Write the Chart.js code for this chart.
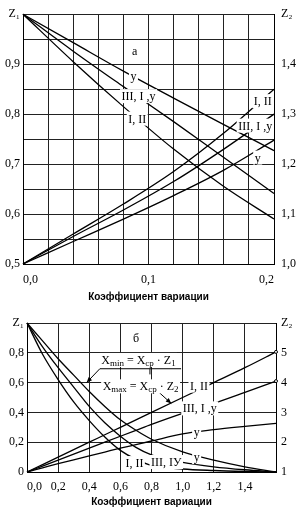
<!DOCTYPE html>
<html><head><meta charset="utf-8">
<script src="https://cdn.jsdelivr.net/npm/chart.js@4"></script>
<style>
html,body{margin:0;padding:0;background:#fff;overflow:hidden;}
canvas{display:block;}
</style></head><body>
<canvas id="c1" width="302" height="308" style="width:302px;height:308px"></canvas>
<canvas id="c2" width="302" height="200" style="width:302px;height:200px"></canvas>
<script>
// ---------- data: top chart (а) ----------
const topX      = [0, 0.04, 0.08, 0.12, 0.16, 0.2];
const topZ1_u   = [1.0, 0.943, 0.886, 0.832, 0.779, 0.727];
const topZ1_III = [1.0, 0.926, 0.855, 0.785, 0.713, 0.641];
const topZ1_I   = [1.0, 0.905, 0.815, 0.730, 0.655, 0.590];
const topZ2_I   = [1.0, 1.060, 1.120, 1.185, 1.262, 1.350];
const topZ2_III = [1.0, 1.055, 1.108, 1.165, 1.230, 1.300];
const topZ2_u   = [1.0, 1.045, 1.090, 1.137, 1.188, 1.248];

// ---------- data: bottom chart (б) ----------
const botX      = [0, 0.1, 0.2, 0.3, 0.4, 0.5, 0.6, 0.7, 0.8, 1.0, 1.2, 1.4, 1.6];
const botZ1_I   = [1, 0.79, 0.62, 0.47, 0.345, 0.235, 0.145, 0.085, 0.045, 0.02, 0.01, 0.004, 0];
const botZ1_III = [1, 0.84, 0.70, 0.57, 0.44, 0.33, 0.24, 0.165, 0.115, 0.065, 0.035, 0.015, 0];
const botZ1_u   = [1, 0.88, 0.76, 0.65, 0.54, 0.44, 0.35, 0.28, 0.22, 0.135, 0.08, 0.035, 0];
const botZ2_I   = [1, 1.25, 1.5, 1.75, 2.0, 2.25, 2.5, 2.75, 3.0, 3.5, 4.0, 4.5, 5.03];
const botZ2_III = [1, 1.2, 1.4, 1.6, 1.8, 2.0, 2.2, 2.4, 2.6, 2.97, 3.3, 3.67, 4.05];
const botZ2_u   = [1, 1.14, 1.28, 1.41, 1.54, 1.67, 1.8, 1.92, 2.04, 2.28, 2.42, 2.53, 2.63];

const axisTitle = 'Коэффициент вариации';

// labels in data coordinates (x, Z1)
const topLabels = [
  {p: [['а', 0]], x: 0.089, y: 0.926},
  {p: [['у', 0]], x: 0.088, y: 0.877},
  {p: [['III, I ,у', 0]], x: 0.092, y: 0.836},
  {p: [['I, II', 0]], x: 0.091, y: 0.791},
  {p: [['I, II', 0]], x: 0.191, y: 0.826},
  {p: [['III, I ,у', 0]], x: 0.185, y: 0.777},
  {p: [['у', 0]], x: 0.187, y: 0.713}
];
const botLabels = [
  {p: [['б', 0]], x: 0.70, y: 0.90},
  {p: [['X', 0], ['min', 1], [' = X', 0], ['cp', 1], [' · Z', 0], ['1', 1]], x: 0.716, y: 0.752},
  {p: [['X', 0], ['max', 1], [' = X', 0], ['cp', 1], [' · Z', 0], ['2', 1]], x: 0.73, y: 0.575},
  {p: [['I, II', 0]], x: 1.105, y: 0.58},
  {p: [['III, I ,у', 0]], x: 1.11, y: 0.427},
  {p: [['у', 0]], x: 1.09, y: 0.267},
  {p: [['I, II', 0]], x: 0.69, y: 0.06},
  {p: [['III, IУ', 0]], x: 0.895, y: 0.067},
  {p: [['у', 0]], x: 1.09, y: 0.10}
];
// leader lines (x, Z1) pairs; arrow flag draws a head at the end
const botLeaders = [
  {pts: [[0.99, 0.693], [0.468, 0.693], [0.383, 0.60]], arrow: true},
  {pts: [[0.79, 0.693], [0.79, 0.655]], arrow: false},
  {pts: [[0.85, 0.533], [0.927, 0.46]], arrow: true}
];

const SERIF = "'Liberation Serif', 'DejaVu Serif', serif";
const SANS = "'Liberation Sans', Arial, sans-serif";

function comma(v, d) { return v.toFixed(d).replace('.', ','); }

function mk(xs, ys, axis, endDot) {
  return {
    data: xs.map((x, i) => ({x: x, y: ys[i]})),
    yAxisID: axis,
    borderColor: '#000', borderWidth: 1.3,
    pointRadius: xs.map((x, i) => (endDot && i === xs.length - 1) ? 1.5 : 0),
    pointBackgroundColor: '#fff', pointBorderColor: '#000', pointBorderWidth: 1,
    fill: false, cubicInterpolationMode: 'monotone', clip: 4
  };
}

function richWidth(ctx, parts) {
  let w = 0;
  for (const [t, s] of parts) {
    ctx.font = (s ? '9px ' : '12px ') + SERIF;
    w += ctx.measureText(t).width;
  }
  return w;
}

const labelPlugin = {
  id: 'labels',
  afterDatasetsDraw(chart, args, opts) {
    const ctx = chart.ctx, xs = chart.scales.x, ys = chart.scales.y;
    ctx.save();
    ctx.strokeStyle = '#000'; ctx.fillStyle = '#000'; ctx.lineWidth = 1;
    for (const L of (opts.leaders || [])) {
      const pts = L.pts.map(p => [xs.getPixelForValue(p[0]), ys.getPixelForValue(p[1])]);
      ctx.beginPath();
      pts.forEach((p, i) => i ? ctx.lineTo(p[0], p[1]) : ctx.moveTo(p[0], p[1]));
      ctx.stroke();
      if (L.arrow) {
        const a = pts[pts.length - 2], b = pts[pts.length - 1];
        const ang = Math.atan2(b[1] - a[1], b[0] - a[0]);
        ctx.beginPath();
        ctx.moveTo(b[0], b[1]);
        ctx.lineTo(b[0] - 6 * Math.cos(ang - 0.4), b[1] - 6 * Math.sin(ang - 0.4));
        ctx.lineTo(b[0] - 6 * Math.cos(ang + 0.4), b[1] - 6 * Math.sin(ang + 0.4));
        ctx.closePath(); ctx.fill();
      }
    }
    ctx.textBaseline = 'alphabetic';
    for (const L of (opts.labels || [])) {
      const cx = xs.getPixelForValue(L.x), cy = ys.getPixelForValue(L.y);
      const w = richWidth(ctx, L.p);
      ctx.fillStyle = '#fff';
      ctx.fillRect(cx - w / 2 - 1.5, cy - 7, w + 3, 14);
      ctx.fillStyle = '#000';
      let x = cx - w / 2;
      for (const [t, s] of L.p) {
        ctx.font = (s ? '9px ' : '12px ') + SERIF;
        ctx.fillText(t, x, cy + (s ? 6 : 4));
        x += ctx.measureText(t).width;
      }
    }
    ctx.restore();
  }
};

function buildChart(id, cfg) {
  const tickFont = {family: SERIF, size: 12};
  return new Chart(document.getElementById(id), {
    type: 'line',
    data: {datasets: cfg.datasets},
    options: {
      responsive: false, animation: false, events: [],
      layout: {padding: {top: cfg.top, left: 0, right: 0, bottom: 0}},
      plugins: {legend: {display: false}, tooltip: {enabled: false},
        labels: {labels: cfg.labels, leaders: cfg.leaders || []}},
      scales: {
        x: {
          type: 'linear', min: 0, max: cfg.xMax,
          ticks: {stepSize: cfg.xStep, autoSkip: false, maxRotation: 0, color: '#000',
            font: tickFont, padding: cfg.xPad, align: 'inner',
            callback: v => cfg.xTicks[Math.round(v / cfg.xStep)] || ''},
          grid: {color: '#222', lineWidth: 1, drawTicks: false},
          border: {color: '#000', width: 1},
          title: {display: true, text: axisTitle, color: '#000',
            font: {family: SANS, size: 10, weight: 'bold'},
            padding: {top: 0, bottom: cfg.titlePad}},
          afterFit: s => { s.height = cfg.xH; }
        },
        y: {
          type: 'linear', position: 'left', min: cfg.y1Min, max: cfg.y1Max,
          ticks: {stepSize: cfg.y1Step, autoSkip: false, color: '#000', font: tickFont,
            padding: 3, callback: cfg.y1Cb},
          grid: {color: '#222', lineWidth: 1, drawTicks: false},
          border: {color: '#000', width: 1},
          afterFit: s => { s.width = cfg.yLW; }
        },
        y2: {
          type: 'linear', position: 'right', min: cfg.y2Min, max: cfg.y2Max,
          ticks: {stepSize: cfg.y2Step, autoSkip: false, color: '#000', font: tickFont,
            padding: cfg.y2Pad, callback: cfg.y2Cb},
          grid: {display: false, drawTicks: false},
          border: {color: '#000', width: 1},
          afterFit: s => { s.width = cfg.yRW; }
        }
      }
    },
    plugins: [labelPlugin]
  });
}

buildChart('c1', {
  datasets: [mk(topX, topZ1_u, 'y'), mk(topX, topZ1_III, 'y'), mk(topX, topZ1_I, 'y'),
             mk(topX, topZ2_I, 'y2'), mk(topX, topZ2_III, 'y2'), mk(topX, topZ2_u, 'y2')],
  labels: topLabels, top: 8,
  xMax: 0.2, xStep: 0.02, xTicks: {0: '0,0', 5: '0,1', 10: '0,2'}, xPad: 9, xH: 44, titlePad: 5,
  y1Min: 0.5, y1Max: 1.0, y1Step: 0.05,
  y1Cb: v => { const k = Math.round(v * 100); return k === 100 ? 'Z₁' : (k % 10 === 0 ? comma(v, 1) : ''); },
  y2Min: 1.0, y2Max: 1.5, y2Step: 0.1,
  y2Cb: v => { const k = Math.round(v * 10); return k === 15 ? 'Z₂' : comma(v, 1); },
  yLW: 23, yRW: 28, y2Pad: 7
});

buildChart('c2', {
  datasets: [mk(botX, botZ1_I, 'y'), mk(botX, botZ1_III, 'y'), mk(botX, botZ1_u, 'y'),
             mk(botX, botZ2_I, 'y2', true), mk(botX, botZ2_III, 'y2', true), mk(botX, botZ2_u, 'y2')],
  labels: botLabels, leaders: botLeaders, top: 15,
  xMax: 1.6, xStep: 0.2, xTicks: {0: '0,0', 1: '0,2', 2: '0,4', 3: '0,6', 4: '0,8', 5: '1,0', 6: '1,2', 7: '1,4'},
  xPad: 8, xH: 36, titlePad: 0,
  y1Min: 0, y1Max: 1.0, y1Step: 0.2,
  y1Cb: v => { const k = Math.round(v * 10); return k === 10 ? 'Z₁' : (k === 0 ? '0' : comma(v, 1)); },
  y2Min: 1, y2Max: 6, y2Step: 1,
  y2Cb: v => { const k = Math.round(v); return k === 6 ? 'Z₂' : String(k); },
  yLW: 27, yRW: 26, y2Pad: 5
});
</script>
</body></html>
